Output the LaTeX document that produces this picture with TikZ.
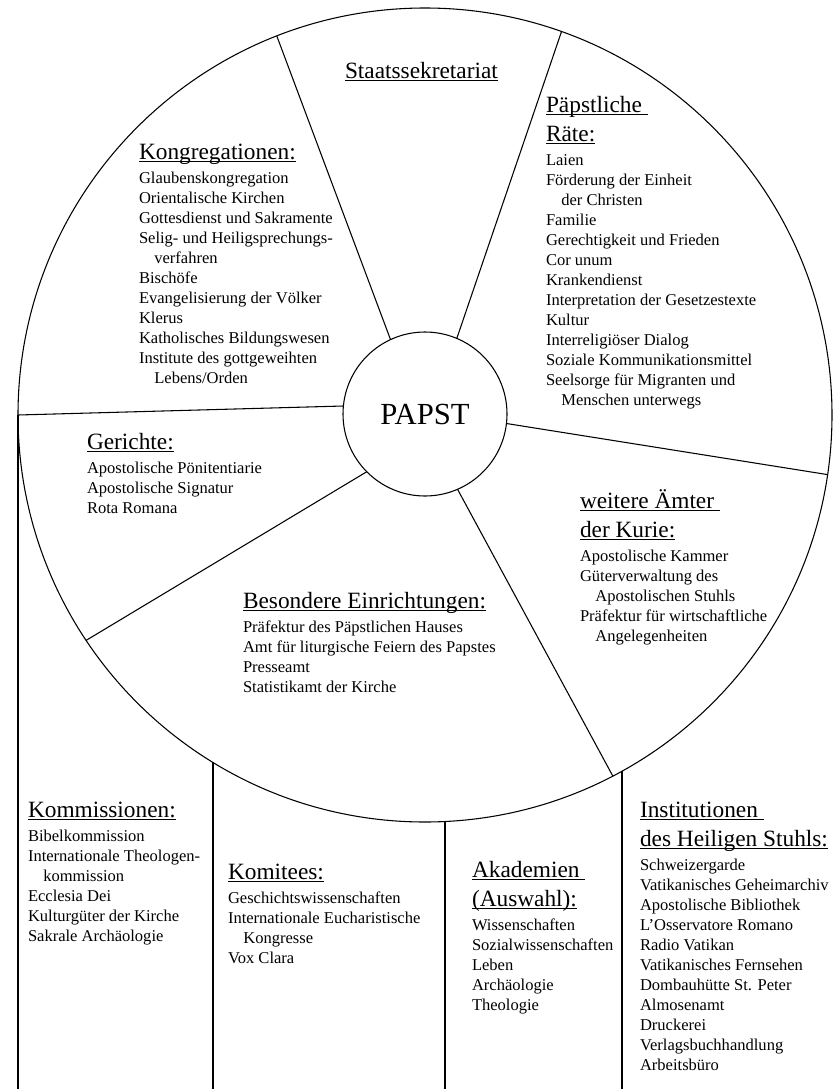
\documentclass[tikz,border=0pt]{standalone}
\usepackage{fontspec}
\setmainfont{Liberation Serif}
\newcommand\ul[1]{\setbox0\hbox{#1}\rlap{\rule[-2.2pt]{\wd0}{0.7pt}}\box0}
\newcommand\hdr[1]{\hbox{\fontsize{17.5pt}{21pt}\selectfont\ul{#1}}}
\newcommand\itm[1]{\hbox{\fontsize{12.4pt}{15pt}\selectfont #1}\baselineskip=15pt\relax}
\newcommand\itmi[1]{\hbox{\fontsize{12.4pt}{15pt}\selectfont\hspace*{11.5pt}#1}\baselineskip=15pt\relax}
\newcommand\blk[2]{\vtop{\lineskiplimit=-1000pt\lineskip=0pt\baselineskip=21.75pt\relax #1\baselineskip=18pt\relax #2}}
\begin{document}
\begin{tikzpicture}[x=0.75pt,y=-0.75pt,line width=0.8pt,
  txt/.style={anchor=base west,inner sep=0pt,outer sep=0pt},
  ring/.style={draw,circle,inner sep=0pt,outer sep=0pt}]
\useasboundingbox (0,0) rectangle (834,1089);
% circles
\node[ring,minimum size=610.5pt] (kurie) at (425,415) {};
\node[ring,minimum size=123pt,font=\fontsize{23pt}{27pt}\selectfont] (papst) at (425,414) {PAPST};
% divider end points
\coordinate (i1) at (390.6,339.8); \coordinate (o1) at (276.8,36);
\coordinate (i2) at (456.7,338.7); \coordinate (o2) at (561.5,31.6);
\coordinate (i3) at (343.3,406);   \coordinate (o3) at (18,415);
\coordinate (i4) at (366.8,471.7); \coordinate (o4) at (86.1,640.4);
\coordinate (i5) at (457.5,489.2); \coordinate (o5) at (612.8,776);
\coordinate (i6) at (506.4,423.5); \coordinate (o6) at (827.6,474.6);
\foreach \k in {1,...,6} {\draw (i\k) -- (o\k);}
% vertical columns
\coordinate (t1) at (18,415);    \coordinate (b1) at (18,1089);
\coordinate (t2) at (213,762.4); \coordinate (b2) at (213,1089);
\coordinate (t3) at (445,821.5); \coordinate (b3) at (445,1089);
\coordinate (t4) at (622,771.1); \coordinate (b4) at (622,1089);
\foreach \k in {1,...,4} {\draw (t\k) -- (b\k);}
% texts
\node[txt] (staat) at (345,78) {\blk{\hdr{Staatssekretariat}}{}};
\node[txt] (kongr) at (139,159) {\blk{\hdr{Kongregationen:}}{%
 \itm{Glaubenskongregation}\itm{Orientalische Kirchen}\itm{Gottesdienst und Sakramente}%
 \itm{Selig- und Heiligsprechungs-}\itmi{verfahren}\itm{Bischöfe}%
 \itm{Evangelisierung der Völker}\itm{Klerus}\itm{Katholisches Bildungswesen}%
 \itm{Institute des gottgeweihten}\itmi{Lebens/Orden}}};
\node[txt] (raete) at (546,112) {\blk{\hdr{Päpstliche\ }\hdr{Räte:}}{%
 \itm{Laien}\itm{Förderung der Einheit}\itmi{der Christen}\itm{Familie}%
 \itm{Gerechtigkeit und Frieden}\itm{Cor unum}\itm{Krankendienst}%
 \itm{Interpretation der Gesetzestexte}\itm{Kultur}\itm{Interreligiöser Dialog}%
 \itm{Soziale Kommunikationsmittel}\itm{Seelsorge für Migranten und}\itmi{Menschen unterwegs}}};
\node[txt] (ger) at (87,449) {\blk{\hdr{Gerichte:}}{%
 \itm{Apostolische Pönitentiarie}\itm{Apostolische Signatur}\itm{Rota Romana}}};
\node[txt] (weit) at (580,508) {\blk{\hdr{weitere Ämter\ }\hdr{der Kurie:}}{%
 \itm{Apostolische Kammer}\itm{Güterverwaltung des}\itmi{Apostolischen Stuhls}%
 \itm{Präfektur für wirtschaftliche}\itmi{Angelegenheiten}}};
\node[txt] (bes) at (243,608) {\blk{\hdr{Besondere Einrichtungen:}}{%
 \itm{Präfektur des Päpstlichen Hauses}\itm{Amt für liturgische Feiern des Papstes}%
 \itm{Presseamt}\itm{Statistikamt der Kirche}}};
\node[txt] (komm) at (28,817) {\blk{\hdr{Kommissionen:}}{%
 \itm{Bibelkommission}\itm{Internationale Theologen-}\itmi{kommission}%
 \itm{Ecclesia Dei}\itm{Kulturgüter der Kirche}\itm{Sakrale Archäologie}}};
\node[txt] (komi) at (228,879) {\blk{\hdr{Komitees:}}{%
 \itm{Geschichtswissenschaften}\itm{Internationale Eucharistische}\itmi{Kongresse}%
 \itm{Vox Clara}}};
\node[txt] (akad) at (472,877) {\blk{\hdr{Akademien\ }\hdr{(Auswahl):}}{%
 \itm{Wissenschaften}\itm{Sozialwissenschaften}\itm{Leben}\itm{Archäologie}\itm{Theologie}}};
\node[txt] (inst) at (640,817) {\blk{\hdr{Institutionen\ }\hdr{des Heiligen Stuhls:}}{%
 \itm{Schweizergarde}\itm{Vatikanisches Geheimarchiv}\itm{Apostolische Bibliothek}%
 \itm{L’Osservatore Romano}\itm{Radio Vatikan}\itm{Vatikanisches Fernsehen}%
 \itm{Dombauhütte St. Peter}\itm{Almosenamt}\itm{Druckerei}%
 \itm{Verlagsbuchhandlung}\itm{Arbeitsbüro}}};
\end{tikzpicture}
\end{document}
